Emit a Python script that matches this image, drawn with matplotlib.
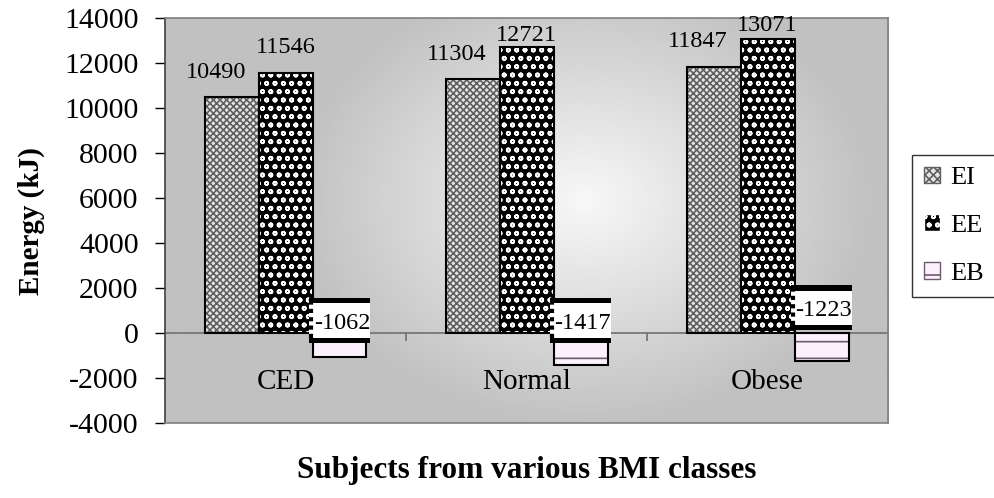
import numpy as np
import matplotlib.pyplot as plt
from matplotlib.patches import Patch, Rectangle

plt.rcParams['font.family'] = ['Liberation Serif', 'DejaVu Serif']
plt.rcParams['hatch.linewidth'] = 1.2
plt.rcParams['axes.unicode_minus'] = False

categories = ['CED', 'Normal', 'Obese']
ei = [10490, 11304, 11847]
ee = [11546, 12721, 13071]
eb = [-1062, -1417, -1223]

fig = plt.figure(figsize=(9.94, 4.98), dpi=100)
ax = fig.add_axes([0.166, 0.1506, 0.7274, 0.813])

# gradient background of the plot area
gx = np.linspace(-1, 1, 300)
gy = np.linspace(-1, 1, 200)
X, Y = np.meshgrid(gx, gy)
r = np.sqrt(((X - 0.16) / 0.9) ** 2 + ((Y - 0.1) / 1.25) ** 2)
shade = np.clip(0.97 - 0.24 * r, 0.755, 0.97)
ax.imshow(shade, cmap='gray', vmin=0, vmax=1, extent=[-0.5, 2.5, -4000, 14000],
          aspect='auto', origin='lower', zorder=0)

x = np.arange(len(categories))
w = 0.224

# EI
ax.bar(x - w, ei, w, color='#e4e4e4', edgecolor='#606060', hatch='xxxxx', lw=0, zorder=2)
ax.bar(x - w, ei, w, fill=False, edgecolor='black', lw=1.5, zorder=3)
# EE
ax.bar(x, ee, w, color='black', edgecolor='white', hatch='oo', lw=0, zorder=2)
ax.bar(x, ee, w, fill=False, edgecolor='black', lw=1.5, zorder=3)
# EB
ax.bar(x + w, eb, w, color='#fcf0fc', edgecolor='#6e5a6e', hatch='-', lw=0, zorder=2)
ax.bar(x + w, eb, w, fill=False, edgecolor='black', lw=1.5, zorder=3)

ax.axhline(0, color='#707070', lw=1.2, zorder=1)
ax.vlines([0.5, 1.5], -350, 0, color='#707070', lw=1.2, zorder=1)

ee_offset = [1150, 520, 620]
eb_box_y = [560, 560, 1130]
for i in range(len(categories)):
    ax.text(x[i] - w - 0.065, ei[i] + 1100, str(ei[i]), ha='center', va='center', fontsize=17.5, zorder=4)
    ax.text(x[i], ee[i] + ee_offset[i], str(ee[i]), ha='center', va='center', fontsize=17.5,
            zorder=4, clip_on=False)
    # label box for the negative balance
    bx = x[i] + w
    by = eb_box_y[i]
    ax.add_patch(Rectangle((bx - 0.128, by - 1000), 0.256, 2000, facecolor='white',
                           edgecolor='none', zorder=5))
    ax.add_patch(Rectangle((bx - 0.128, by + 760), 0.256, 240, facecolor='black', zorder=5))
    ax.add_patch(Rectangle((bx - 0.128, by - 1000), 0.256, 240, facecolor='black', zorder=5))
    ax.plot([bx - 0.12, bx - 0.12], [by - 760, by + 760], color='black', lw=3,
            linestyle=(0, (1, 1)), zorder=6)
    ax.text(bx + 0.01, by - 150, str(eb[i]), ha='center', va='center', fontsize=17.5, zorder=6)
    ax.text(x[i], -2180, categories[i], ha='center', va='center', fontsize=21, zorder=4)

ax.set_xlim(-0.5, 2.5)
ax.set_ylim(-4000, 14000)
ax.set_yticks(range(-4000, 14001, 2000))
ax.tick_params(axis='y', labelsize=21.5, direction='out', length=7, width=1, pad=12)
ax.set_xticks([])
for s in ax.spines.values():
    s.set_color('#808080')
    s.set_linewidth(1.2)
ax.spines['left'].set_color('#404040')
ax.set_ylabel('Energy (kJ)', fontsize=21, fontweight='bold', labelpad=14)
fig.text(0.530, 0.056, 'Subjects from various BMI classes', ha='center', va='center',
         fontsize=22.5, fontweight='bold')

handles = [
    Patch(facecolor='#e4e4e4', edgecolor='#606060', hatch='xxxx', label='EI'),
    Patch(facecolor='black', edgecolor='white', hatch='oo', label='EE'),
    Patch(facecolor='#fcf0fc', edgecolor='#6e5a6e', hatch='-', label='EB'),
]
leg = fig.legend(handles=handles, loc='center left', bbox_to_anchor=(0.9175, 0.547), fontsize=19,
                 frameon=True, fancybox=False, edgecolor='black', handlelength=0.6,
                 handleheight=0.6, handletextpad=0.4, labelspacing=0.95, borderpad=0.45,
                 borderaxespad=0)
leg.get_frame().set_linewidth(1)

fig.savefig('out.png', dpi=100)
